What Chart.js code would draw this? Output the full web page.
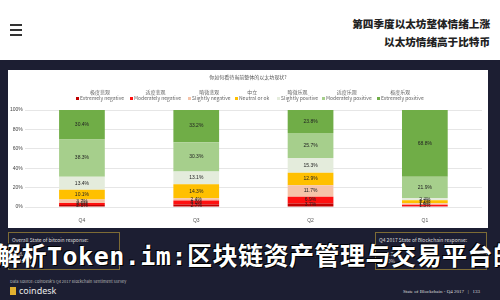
<!DOCTYPE html>
<html>
<head>
<meta charset="utf-8">
<script src="https://cdn.jsdelivr.net/npm/chart.js@4"></script>
<style>
  html, body { margin: 0; padding: 0; }
  body { width: 500px; height: 300px; position: relative; overflow: hidden; background: #1c1e32; font-family: "Noto Sans CJK SC", "Noto Sans", sans-serif; }
  .top { position: absolute; left: 0; top: 0; width: 500px; height: 60px; background: #fff; }
  .burger { position: absolute; left: 10px; top: 24px; width: 12px; }
  .burger span { display: block; height: 2px; background: #333; margin-bottom: 3px; }
  .headline { position: absolute; right: 10px; top: 15px; text-align: right; font-weight: 900; font-size: 10.6px; line-height: 18px; color: #222; }
  .panel { position: absolute; left: 8px; top: 70px; width: 480px; height: 158px; background: #fff; }
  .ptitle { position: absolute; left: 0; top: 3px; width: 480px; text-align: center; font-size: 5px; color: #555; }
  .legend { position: absolute; left: 0; top: 19px; width: 480px; height: 14px; }
  .legend div { position: absolute; font-size: 5px; color: #666; white-space: nowrap; text-align: center; line-height: 6px; }
  .legend i { display: inline-block; width: 3px; height: 3px; margin-right: 1px; }
  .box { position: absolute; top: 232px; height: 38px; border: 1px solid #7d6b35; color: #ddd; font-size: 5px; padding: 3px; box-sizing: border-box; }
  .big { position: absolute; left: -4px; top: 236px; white-space: nowrap; color: #fff; font-size: 25px; font-weight: 700; font-family: "DejaVu Sans Mono", "Noto Sans CJK SC", monospace; letter-spacing: 0.5px; text-shadow: 1px 1px 0 #000, -1px -1px 0 #000; }
  .src { position: absolute; left: 10px; top: 278px; font-size: 4px; color: #bbb; }
  .logo { position: absolute; left: 10px; top: 284px; font-size: 9px; color: #e8e8e8; font-family: "Noto Sans", sans-serif; }
  .logo b { display: inline-block; width: 6px; height: 8px; background: #e0b030; margin-right: 3px; vertical-align: -1px; }
  .foot { position: absolute; right: 20px; top: 289px; font-size: 5px; color: #ddd; font-family: "Liberation Serif", serif; }
</style>
</head>
<body>
<div class="top">
  <div class="burger"><span></span><span></span><span></span></div>
  <div class="headline">第四季度以太坊整体情绪上涨<br>以太坊情绪高于比特币</div>
</div>
<div class="panel">
  <div class="ptitle">你如何看待当前整体的以太坊现状?</div>
  <div class="legend" id="legend"></div>
  <canvas id="chart"></canvas>
</div>
<div class="box" style="left:8px;width:112px;">Overall State of bitcoin response:<br><br>&nbsp;&nbsp;&nbsp;&nbsp;58.0%<br>&nbsp;&nbsp;&nbsp;&nbsp;11.3%</div>
<div class="box" style="left:375px;width:112px;">Q4 2017 State of Blockchain response:<br><br>&nbsp;&nbsp;&nbsp;&nbsp;75.7%<br>&nbsp;&nbsp;&nbsp;&nbsp;8.0%</div>
<div class="big">解析Token.im:区块链资产管理与交易平台的</div>
<div class="src">Data Source: CoinDesk's Q4 2017 Blockchain Sentiment Survey</div>
<div class="logo"><b></b>coindesk</div>
<div class="foot">State of Blockchain - Q4 2017 &nbsp;&nbsp;| &nbsp;&nbsp;133</div>
<script>
const quarters = ['Q4', 'Q3', 'Q2', 'Q1'];
const seriesZh = ['极度悲观', '适度悲观', '略微悲观', '中立', '略微乐观', '适度乐观', '极度乐观'];
const seriesEn = ['Extremely negative', 'Moderately negative', 'Slightly negative', 'Neutral or ok', 'Slightly positive', 'Moderately positive', 'Extremely positive'];
const seriesColors = ['#c00000', '#ff1010', '#f6c3a8', '#ffc000', '#e4ecdc', '#a6cf8c', '#70ad47'];

const extremelyNegative  = [2.1, 2.7, 3.7, 0.7];
const moderatelyNegative = [2.0, 4.0, 6.9, 1.5];
const slightlyNegative   = [3.7, 2.4, 11.7, 1.6];
const neutral            = [10.1, 14.3, 12.9, 3.1];
const slightlyPositive   = [13.4, 13.1, 15.3, 2.4];
const moderatelyPositive = [38.3, 30.3, 25.7, 21.9];
const extremelyPositive  = [30.4, 33.2, 23.8, 68.8];

const yTicks = ['0%', '20%', '40%', '60%', '80%', '100%'];

const seriesValues = [extremelyNegative, moderatelyNegative, slightlyNegative, neutral, slightlyPositive, moderatelyPositive, extremelyPositive];

// legend as html, two lines per item
const legendX = [68, 122, 180, 227, 269, 314, 369];
const legendEl = document.getElementById('legend');
seriesZh.forEach((zh, i) => {
  const d = document.createElement('div');
  d.style.left = legendX[i] + 'px';
  d.innerHTML = zh + '<br><i style="background:' + seriesColors[i] + '"></i>' + seriesEn[i];
  legendEl.appendChild(d);
});

const valueLabels = {
  id: 'valueLabels',
  afterDatasetsDraw(chart) {
    const ctx = chart.ctx;
    ctx.save();
    ctx.font = '5px "Liberation Sans", sans-serif';
    ctx.fillStyle = '#222';
    ctx.textAlign = 'center';
    ctx.textBaseline = 'middle';
    chart.data.datasets.forEach((ds, di) => {
      chart.getDatasetMeta(di).data.forEach((bar, i) => {
        const v = ds.data[i];
        if (v < 1.4) return;
        const y = (bar.y + bar.base) / 2;
        ctx.fillText(v.toFixed(1) + '%', bar.x, y);
      });
    });
    ctx.restore();
  }
};

new Chart(document.getElementById('chart'), {
  type: 'bar',
  data: {
    labels: quarters,
    datasets: seriesValues.map((vals, i) => ({
      label: seriesEn[i],
      data: vals,
      backgroundColor: seriesColors[i],
      borderWidth: 0,
      barPercentage: 0.8,
      categoryPercentage: 0.5,
    })),
  },
  options: {
    responsive: true,
    maintainAspectRatio: false,
    animation: false,
    layout: { padding: { top: 40, left: 0, right: 6, bottom: 1 } },
    plugins: {
      legend: { display: false },
      tooltip: { enabled: false },
    },
    scales: {
      x: {
        stacked: true,
        grid: { display: false },
        border: { display: false },
        ticks: { font: { size: 5 }, color: '#555', padding: 3 },
      },
      y: {
        stacked: true,
        min: 0,
        max: 100,
        border: { display: false },
        grid: { color: '#e6e6e6', drawTicks: false },
        ticks: {
          stepSize: 20,
          font: { size: 5 },
          color: '#444',
          padding: 2,
          callback: (v) => yTicks[v / 20],
        },
      },
    },
  },
  plugins: [valueLabels],
});
</script>
</body>
</html>
